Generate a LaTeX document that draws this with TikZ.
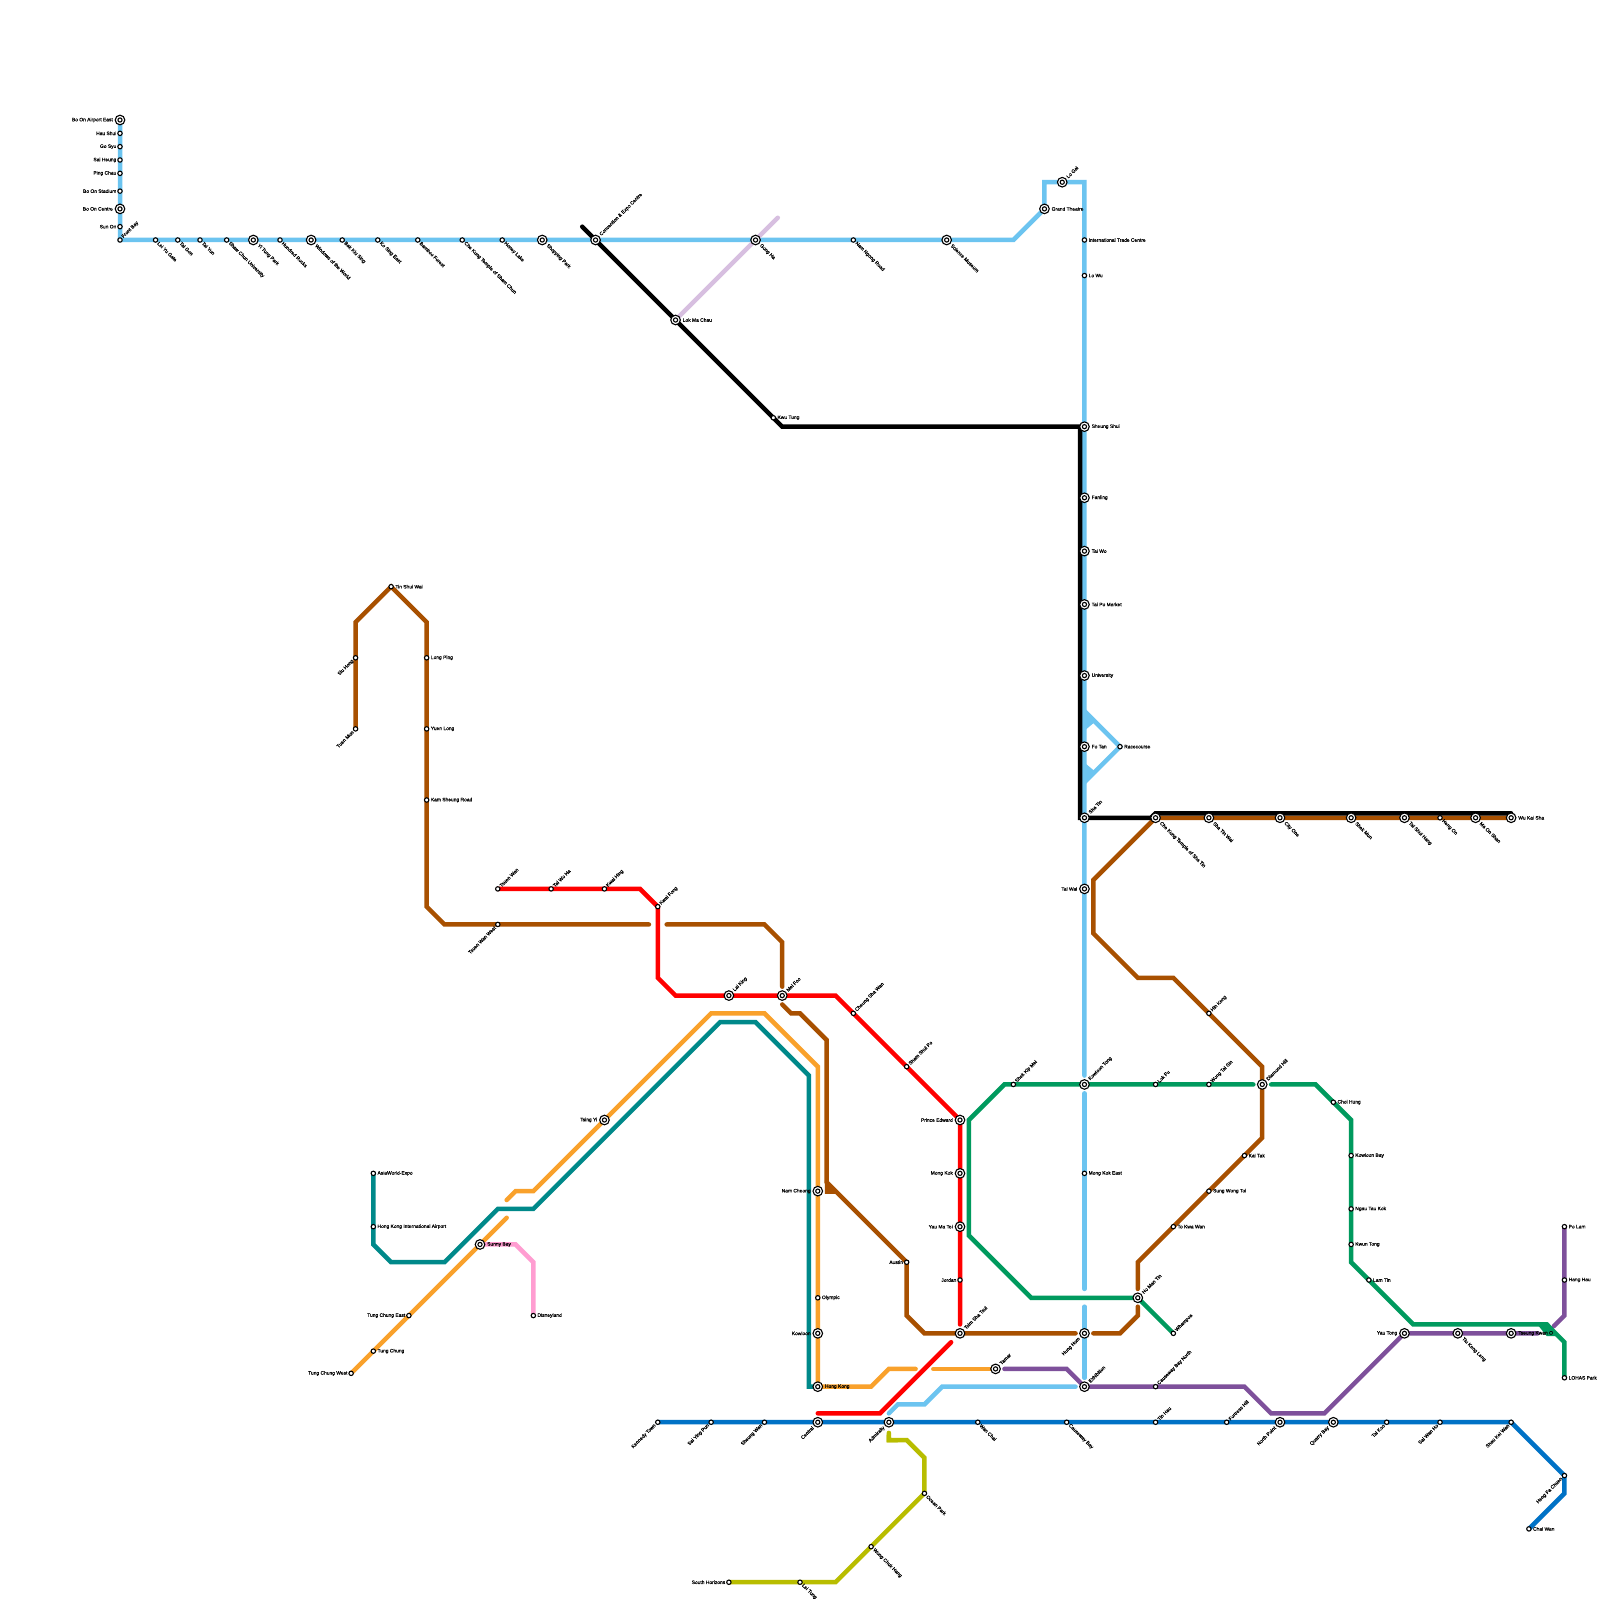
\documentclass[tikz,border=0pt]{standalone}
\usepackage{fontspec}
\setmainfont{Liberation Sans}
\newfontfamily\lblfont[FakeBold=0.4]{Liberation Sans}
\usetikzlibrary{backgrounds}
\definecolor{cLightBlue}{HTML}{6CC4F0}
\definecolor{cLilac}{HTML}{D7BFE0}
\definecolor{cTeal}{HTML}{00898A}
\definecolor{cOrange}{HTML}{F9A12B}
\definecolor{cPurple}{HTML}{7E509B}
\definecolor{cPink}{HTML}{FF9DD1}
\definecolor{cDarkBlue}{HTML}{0072C6}
\definecolor{cLime}{HTML}{B8BD00}
\definecolor{cRed}{HTML}{FF0000}
\definecolor{cBrown}{HTML}{A85000}
\definecolor{cGreen}{HTML}{009A5E}
\tikzset{
  railline/.style={line width=4.5pt,line cap=round,line join=miter,miter limit=10},
  lblue/.style={railline,draw=cLightBlue},
  lilac/.style={railline,draw=cLilac},
  lteal/.style={railline,draw=cTeal},
  lorange/.style={railline,draw=cOrange},
  lpurple/.style={railline,draw=cPurple},
  lpink/.style={railline,draw=cPink},
  ldark/.style={railline,draw=cDarkBlue},
  llime/.style={railline,draw=cLime},
  lred/.style={railline,draw=cRed},
  lbrown/.style={railline,draw=cBrown},
  lgreen/.style={railline,draw=cGreen},
  lblack/.style={railline,draw=black},
  small/.style={circle,draw=black,fill=white,line width=1.1pt,inner sep=0pt,minimum size=4.4pt},
  big/.style={circle,draw=black,fill=white,line width=1.1pt,inner sep=0pt,minimum size=9.6pt,
    path picture={\draw[line width=1.1pt] (path picture bounding box.center) circle (2.1pt);}},
  lbl/.style={inner sep=0pt,font=\lblfont\fontsize{4.9}{5}\selectfont,text=black},
  smallR/.style={lbl,anchor=west,xshift=4pt},
  smallL/.style={lbl,anchor=east,xshift=-3.5pt},
  smallUR/.style={lbl,anchor=west,rotate=45,xshift=3.6pt},
  smallDR/.style={lbl,anchor=west,rotate=-45,xshift=3.6pt},
  smallDL/.style={lbl,anchor=east,rotate=45,xshift=-3.6pt},
  bigR/.style={lbl,anchor=west,xshift=7pt},
  bigL/.style={lbl,anchor=east,xshift=-7pt},
  bigUR/.style={lbl,anchor=west,rotate=45,xshift=6.8pt},
  bigDR/.style={lbl,anchor=west,rotate=-45,xshift=6.8pt},
  bigDL/.style={lbl,anchor=east,rotate=45,xshift=-6.8pt},
}
\newcommand{\route}[2]{%
  \gdef\rpath{}\gdef\rsep{}%
  \foreach \p in {#2}{\xdef\rpath{\rpath\rsep(\p.center)}\gdef\rsep{--}}%
  \edef\rdo{\noexpand\draw[#1] \rpath;}\rdo}
\begin{document}
\begin{tikzpicture}[x=17.7778pt,y=-17.7778pt]
\useasboundingbox (0,0) rectangle (90,90);
% stations: name / x / y / kind / label style / text
\foreach \n/\x/\y/\k/\d/\t in {
 boAirport/6.75/6.75/big/L/Bo On Airport East, hauShui/6.75/7.5/small/L/Hau Shui, goSyu/6.75/8.25/small/L/Go Syu,
 saiHeung/6.75/9/small/L/Sai Heung, pingChau/6.75/9.75/small/L/Ping Chau, boStadium/6.75/10.75/small/L/Bo On Stadium,
 boCentre/6.75/11.75/big/L/Bo On Centre, sunOn/6.75/12.75/small/L/Sun On, frontBay/6.75/13.5/small/UR/Front Bay,
 leiYu/8.75/13.5/small/DR/Lei Yu Gate, taiGon/10/13.5/small/DR/Tai Gon, taiYun/11.25/13.5/small/DR/Tai Yun,
 shawChun/12.75/13.5/small/DR/Shaw Chun University, yiTung/14.25/13.5/big/DR/Yi Tung Park, hundred/15.75/13.5/small/DR/Hundred Rocks,
 windows/17.5/13.5/big/DR/Windows of the World, bakKiu/19.25/13.5/small/DR/Bak Kiu Sing, koSing/21.25/13.5/small/DR/Ko Sing East,
 bamboo/23.5/13.5/small/DR/Bamboo Forest, cheKungSC/26/13.5/small/DR/Che Kung Temple of Sham Chun, honey/28.25/13.5/small/DR/Honey Lake,
 shopping/30.5/13.5/big/DR/Shopping Park, convention/33.5/13.5/big/UR/Convention \& Expo Centre, gongHa/42.5/13.5/big/DR/Gong Ha,
 namNgong/48/13.5/small/DR/Nam Ngong Road, science/53.25/13.5/big/DR/Science Museum, grand/58.75/11.75/big/R/Grand Theatre,
 loGai/59.75/10.25/big/UR/Lo Gai, itc/61/13.5/small/R/International Trade Centre, loWu/61/15.5/small/R/Lo Wu,
 lokMa/38/18/big/R/Lok Ma Chau, kwuTung/43.5/23.5/small/R/Kwu Tung, sheungShui/61/24/big/R/Sheung Shui, fanling/61/28/big/R/Fanling,
 taiWo/61/31/big/R/Tai Wo, taiPo/61/34/big/R/Tai Po Market, university/61/38/big/R/University, fotan/61/42/big/R/Fo Tan,
 race/63/42/small/R/Racecourse, shaTin/61/46/big/UR/Sha Tin, cheKungST/65/46/big/DR/Che Kung Temple of Sha Tin,
 shaTinWai/68/46/big/DR/Sha Tin Wai, cityOne/72/46/big/DR/City One, shekMun/76/46/big/DR/Shek Mun, taiShui/79/46/big/DR/Tai Shui Hang,
 hengOn/81/46/small/DR/Heng On, maOn/83/46/big/DR/Ma On Shan, wuKai/85/46/big/R/Wu Kai Sha, taiWai/61/50/big/L/Tai Wai,
 kowloonTong/61/61/big/UR/Kowloon Tong, mongKokE/61/66/small/R/Mong Kok East, hungHom/61/75/big/DL/Hung Hom, exhibition/61/78/big/UR/Exhibition,
 tinShui/22/33/small/R/Tin Shui Wai, siuHong/20/37/small/DL/Siu Hong, tuenMun/20/41/small/DL/Tuen Mun, longPing/24/37/small/R/Long Ping,
 yuenLong/24/41/small/R/Yuen Long, kamSheung/24/45/small/R/Kam Sheung Road, tsuenWanW/28/52/small/DL/Tsuen Wan West,
 tsuenWan/28/50/small/UR/Tsuen Wan, taiWoHa/31/50/small/UR/Tai Wo Ha, kwaiHing/34/50/small/UR/Kwai Hing, kwaiFong/37/51/small/UR/Kwai Fong,
 laiKing/41/56/big/UR/Lai King, meiFoo/44/56/big/UR/Mei Foo, cheungSha/48/57/small/UR/Cheung Sha Wan, shamShui/51/60/small/UR/Sham Shui Po,
 princeE/54/63/big/L/Prince Edward, mongKok/54/66/big/L/Mong Kok, yauMa/54/69/big/L/Yau Ma Tei, jordan/54/72/small/L/Jordan,
 tst/54/75/big/UR/Tsim Sha Tsui, austin/51/71/small/L/Austin, tsingYi/34/63/big/L/Tsing Yi, namCheong/46/67/big/L/Nam Cheong,
 olympic/46/73/small/R/Olympic, kowloon/46/75/big/L/Kowloon, hongKong/46/78/big/R/Hong Kong, tamar/56/77/big/UR/Tamar,
 asia/21/66/small/R/AsiaWorld-Expo, airport/21/69/small/R/Hong Kong International Airport, sunny/27/70/big/R/Sunny Bay,
 disney/30/74/small/R/Disneyland, tcEast/23/74/small/L/Tung Chung East, tc/21/76/small/R/Tung Chung, tcWest/19.75/77.25/small/L/Tung Chung West,
 shekKip/57/61/small/UR/Shek Kip Mei, lokFu/65/61/small/UR/Lok Fu, wongTai/68/61/small/UR/Wong Tai Sin, diamond/71/61/big/UR/Diamond Hill,
 choi/75/62/small/R/Choi Hung, kowBay/76/65/small/R/Kowloon Bay, ngau/76/68/small/R/Ngau Tau Kok, kwunTong/76/70/small/R/Kwun Tong,
 lamTin/77/72/small/R/Lam Tin, yauTong/79/75/big/L/Yau Tong, tiuKeng/82/75/big/DR/Tiu Keng Leng, tko/85/75/big/R/Tseung Kwan O,
 poLam/88/69/small/R/Po Lam, hangHau/88/72/small/R/Hang Hau, lohas/88/77.5/small/R/LOHAS Park, hoMan/64/73/big/UR/Ho Man Tin,
 whampoa/66/75/small/UR/Whampoa, cbNorth/65/78/small/UR/Causeway Bay North, toKwa/66/69/small/R/To Kwa Wan, sungWong/68/67/small/R/Sung Wong Toi,
 kaiTak/70/65/small/R/Kai Tak, hinKeng/68/57/small/UR/Hin Keng, kennedy/37/80/small/DL/Kennedy Town, saiYing/40/80/small/DL/Sai Ying Pun,
 sheungWan/43/80/small/DL/Sheung Wan, central/46/80/big/DL/Central, admiralty/50/80/big/DL/Admiralty, wanChai/55/80/small/DR/Wan Chai,
 causeway/60/80/small/DR/Causeway Bay, tinHau/65/80/small/UR/Tin Hau, fortress/69/80/small/UR/Fortress Hill, northPoint/72/80/big/DL/North Point,
 quarry/75/80/big/DL/Quarry Bay, taiKoo/78/80/small/DL/Tai Koo, saiWan/81/80/small/DL/Sai Wan Ho, shauKei/85/80/small/DL/Shau Kei Wan,
 heng/88/83/small/DL/Heng Fa Chuen, chaiWan/86/86/small/R/Chai Wan, south/41/89/small/L/South Horizons, leiTung/45/89/small/DR/Lei Tung,
 wong/49/87/small/DR/Wong Chuk Hang, ocean/52/84/small/DR/Ocean Park%
}{
  \node[\k] (\n) at (\x,\y) {};
  \node[\k\d] (\n-label) at (\n.center) {\t};
}
% way points of the lines
\foreach \n/\x/\y in {
 lb1/57/13.5, lb2/58.75/10.25, lb3/61/10.25, lb4/61/60.5, lb5/61/61.5, lb6/61/72.5, lb7/61/73.5, lb8/61/77.5,
 lb9/60.5/78, lb10/53/78, lb11/52/79, lb12/50.5/79, lb13/50/79.5, lbA/61/40, lbB/61/44,
 lil1/43.75/12.25,
 blk1/32.75/12.75, blk2/44/24, blk3/60.75/24, blk4/60.75/46, blk5/64.75/46, blk6/65/45.75, blk7/85/45.75,
 br1/20/35, br2/24/35, br3/24/51, br4/25/52, br5/36.5/52, br6/37.5/52, br7/43/52, br8/44/53, br9/44/55.5,
 br10/44/56.5, br11/44.5/57, br12/45/57, br13/46.5/58.5, br14/46.5/66.5, br15/51/74, br16/52/75, br17/60.5/75,
 br18/61.5/75, br19/63/75, br20/64/74, br21/64/73.5, br22/64/72.5, br23/64/71, br24/71/64, br25/71/60,
 br26/66/55, br27/64/55, br28/61.5/52.5, br29/61.5/49.5,
 rd1/36/50, rd2/37/55, rd3/38/56, rd4/47/56, rd5/54/74.5, rd6/53.5/75.5, rd7/49.5/79.5, rd8/46/79.5,
 or1/28.5/68.5, or2/28.5/67.5, or3/29/67, or4/30/67, or5/40/57, or6/43/57, or7/46/60, or8/49/78, or9/50/77, or10/51.5/77, or11/52.5/77,
 te1/21/70, te2/22/71, te3/25/71, te4/28/68, te5/30/68, te6/40.5/57.5, te7/42.5/57.5, te8/45.5/60.5, te9/45.5/78,
 pk1/29/70, pk2/30/71,
 gr1/58/73, gr2/54.5/69.5, gr3/54.5/63, gr4/56.5/61, gr5/70.5/61, gr6/71.5/61, gr7/74/61, gr8/76/63, gr9/76/71, gr10/79.5/74.5, gr11/87/74.5, gr12/88/75.5,
 pu1/88/74, pu2/87.4/74.6, pu3/86.5/75, pu4/74.5/79.5, pu5/71.5/79.5, pu6/70/78, pu7/60/77, pu8/56.5/77,
 db1/88/84,
 li1/50/80.6, li2/50/81, li3/51/81, li4/52/82, li5/47/89%
}{ \coordinate (\n) at (\x,\y); }
\begin{scope}[on background layer]
\fill[white] (0,0) rectangle (90,90);
\route{lblue}{boAirport,hauShui,goSyu,saiHeung,pingChau,boStadium,boCentre,sunOn,frontBay,leiYu,taiGon,taiYun,shawChun,yiTung,hundred,windows,bakKiu,koSing,bamboo,cheKungSC,honey,shopping,convention,gongHa,namNgong,science,lb1,grand,lb2,loGai,lb3,itc,loWu,sheungShui,fanling,taiWo,taiPo,university,fotan,shaTin,taiWai,lb4}
\route{lblue}{lb5,mongKokE,lb6}
\route{lblue}{lb7,hungHom,lb8}
\route{lblue}{lb9,lb10,lb11,lb12,lb13}
\route{lblue}{lbA,race,lbB}
\fill[cLightBlue] (61,40) -- (61.6,40.6) -- (61,41.1) -- cycle;
\fill[cLightBlue] (61,44) -- (61.6,43.4) -- (61,42.9) -- cycle;
\route{lilac}{lokMa,gongHa,lil1}
\route{lteal}{asia,airport,te1,te2,te3,te4,te5,te6,te7,te8,te9,hongKong}
\route{lorange}{tcWest,tc,tcEast,sunny,or1}
\route{lorange}{or2,or3,or4,tsingYi,or5,or6,or7,namCheong,olympic,kowloon,hongKong,or8,or9,or10}
\route{lorange}{or11,tamar}
\route{lpurple}{poLam,hangHau,pu1,pu2}
\route{lpurple}{pu3,tko,tiuKeng,yauTong,pu4,pu5,pu6,cbNorth,exhibition,pu7,pu8}
\route{lpink}{sunny,pk1,pk2,disney}
\route{ldark}{kennedy,saiYing,sheungWan,central,admiralty,wanChai,causeway,tinHau,fortress,northPoint,quarry,taiKoo,saiWan,shauKei,heng,db1,chaiWan}
\route{llime}{li1,li2,li3,li4,ocean,wong,li5,leiTung,south}
\fill[cLime] (49.87,80.7) -- (50.5,81.13) -- (49.87,81.13) -- cycle;
\route{lred}{tsuenWan,taiWoHa,kwaiHing,rd1,kwaiFong,rd2,rd3,laiKing,meiFoo,rd4,cheungSha,shamShui,princeE,mongKok,yauMa,jordan,rd5}
\route{lred}{rd6,rd7,rd8}
\route{lbrown}{tuenMun,siuHong,br1,tinShui,br2,longPing,yuenLong,kamSheung,br3,br4,tsuenWanW,br5}
\route{lbrown}{br6,br7,br8,br9}
\route{lbrown}{br10,br11,br12,br13,br14,austin,br15,br16,tst,br17}
\fill[cBrown] (46.4,66.4) -- (47.1,67.15) -- (46.4,67.15) -- cycle;
\route{lbrown}{br18,br19,br20,br21}
\route{lbrown}{br22,br23,toKwa,sungWong,kaiTak,br24,diamond,br25,hinKeng,br26,br27,br28,br29,cheKungST,shaTinWai,cityOne,shekMun,taiShui,hengOn,maOn,wuKai}
\route{lgreen}{whampoa,hoMan,gr1,gr2,gr3,gr4,shekKip,kowloonTong,lokFu,wongTai,gr5}
\route{lgreen}{gr6,gr7,choi,gr8,kowBay,ngau,kwunTong,gr9,lamTin,gr10,gr11,gr12,lohas}
\fill[cGreen] (86.4,74.4) -- (87.1,74.4) -- (87.7,75.15) -- (87,75.15) -- cycle;
\route{lblack}{blk1,convention,lokMa,kwuTung,blk2,blk3,blk4,blk5,blk6,blk7}
\end{scope}
\end{tikzpicture}
\end{document}
